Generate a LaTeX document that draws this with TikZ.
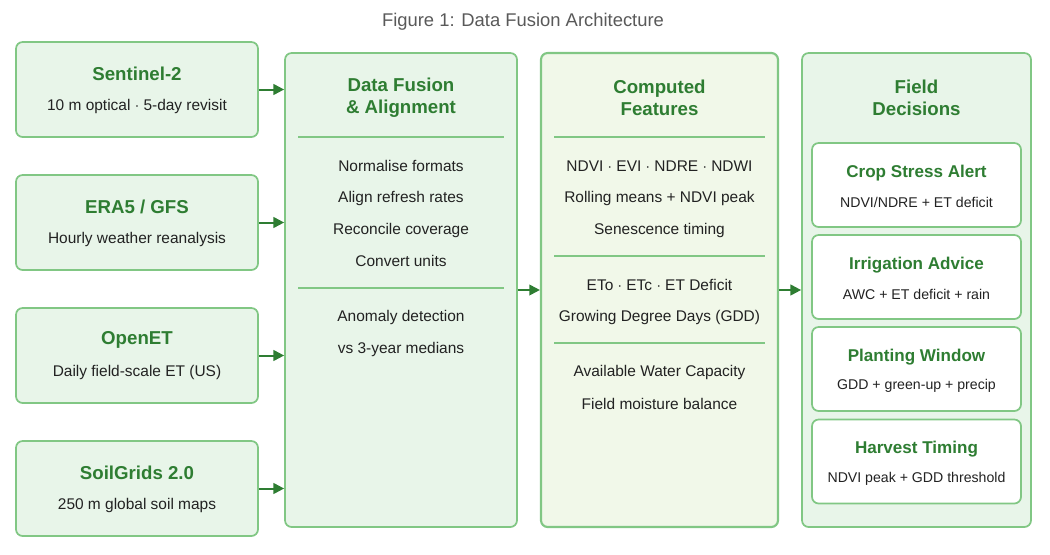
\documentclass[tikz,border=0pt]{standalone}
\usepackage{fontspec}
\setmainfont{Liberation Sans}
\usetikzlibrary{arrows.meta}
\definecolor{gborder}{HTML}{81C784}
\definecolor{gfill}{HTML}{E8F5E9}
\definecolor{yfill}{HTML}{F1F8E9}
\definecolor{gtext}{HTML}{2E7D32}
\definecolor{btext}{HTML}{222222}
\begin{document}
\begin{tikzpicture}[x=0.75pt,y=-0.75pt,
    box/.style={draw=gborder,line width=1.3pt,rounded corners=5pt,fill=gfill},
    head/.style={text=gtext,font=\fontsize{14}{17.5}\selectfont\bfseries,align=center},
    item/.style={text=btext,font=\fontsize{11.6}{14}\selectfont},
    small/.style={text=btext,font=\fontsize{10.6}{13}\selectfont},
    sep/.style={draw=gborder,line width=0.9pt},
    flow/.style={draw=gtext,line width=1.5pt,-{Triangle[length=8pt,width=8pt]}}]
\useasboundingbox (0,0) rectangle (1050,554);
\node[text=black!65,font=\fontsize{13.8}{16}\selectfont] (title) at (523,22) {Figure 1: Data Fusion Architecture};

% sources
\foreach \nm/\y/\hd/\sub in {s2/89.5/{Sentinel-2}/{10 m optical $\cdot$ 5-day revisit},
    era/222.5/{ERA5 / GFS}/{Hourly weather reanalysis},
    oet/355.5/{OpenET}/{Daily field-scale ET (US)},
    soil/488.5/{SoilGrids 2.0}/{250 m global soil maps}}{
  \node[box,minimum width=242*0.75pt,minimum height=95*0.75pt] (\nm) at (137,\y) {};
  \node[head] at (137,\y-16) {\hd};
  \node[item] at (137,\y+17) {\sub};
}

% columns
\node[box,minimum width=232*0.75pt,minimum height=474*0.75pt] (fuse) at (401,290) {};
\node[box,fill=yfill,line width=1.6pt,minimum width=237*0.75pt,minimum height=474*0.75pt] (feat) at (659.5,290) {};
\node[box,minimum width=229*0.75pt,minimum height=474*0.75pt] (dec) at (916.5,290) {};

\node[head] at (401,98) {Data Fusion\\[-1pt]\& Alignment};
\draw[sep] (298,137) -- (504,137);
\node[item] at (401,166) {Normalise formats};
\node[item] at (401,198) {Align refresh rates};
\node[item] at (401,230) {Reconcile coverage};
\node[item] at (401,261) {Convert units};
\draw[sep] (298,288) -- (504,288);
\node[item] at (401,317) {Anomaly detection};
\node[item] at (401,349) {vs 3-year medians};

\node[head] at (659.5,98) {Computed\\[-1pt]Features};
\draw[sep] (554,137) -- (765,137);
\node[item] at (659.5,166) {NDVI $\cdot$ EVI $\cdot$ NDRE $\cdot$ NDWI};
\node[item] at (659.5,198) {Rolling means + NDVI peak};
\node[item] at (659.5,230) {Senescence timing};
\draw[sep] (554,256) -- (765,256);
\node[item] at (659.5,285) {ETo $\cdot$ ETc $\cdot$ ET Deficit};
\node[item] at (659.5,317) {Growing Degree Days (GDD)};
\draw[sep] (554,343) -- (765,343);
\node[item] at (659.5,372) {Available Water Capacity};
\node[item] at (659.5,404) {Field moisture balance};

\node[head] at (916.5,98) {Field\\[-1pt]Decisions};
\foreach \nm/\y/\hd/\sub in {stress/185/{Crop Stress Alert}/{NDVI/NDRE + ET deficit},
    irr/277/{Irrigation Advice}/{AWC + ET deficit + rain},
    plant/369/{Planting Window}/{GDD + green-up + precip},
    harv/461.5/{Harvest Timing}/{NDVI peak + GDD threshold}}{
  \node[box,fill=white,minimum width=209*0.75pt,minimum height=84*0.75pt] (\nm) at (916.5,\y) {};
  \node[head,font=\fontsize{12.8}{15}\selectfont\bfseries] at (916.5,\y-12) {\hd};
  \node[small] at (916.5,\y+17) {\sub};
}

% arrows
\foreach \nm in {s2,era,oet,soil}
  \draw[flow] (\nm.east) -- (\nm.east -| fuse.west);
\draw[flow] (fuse.east) -- (feat.west);
\draw[flow] (feat.east) -- (dec.west);
\end{tikzpicture}
\end{document}
